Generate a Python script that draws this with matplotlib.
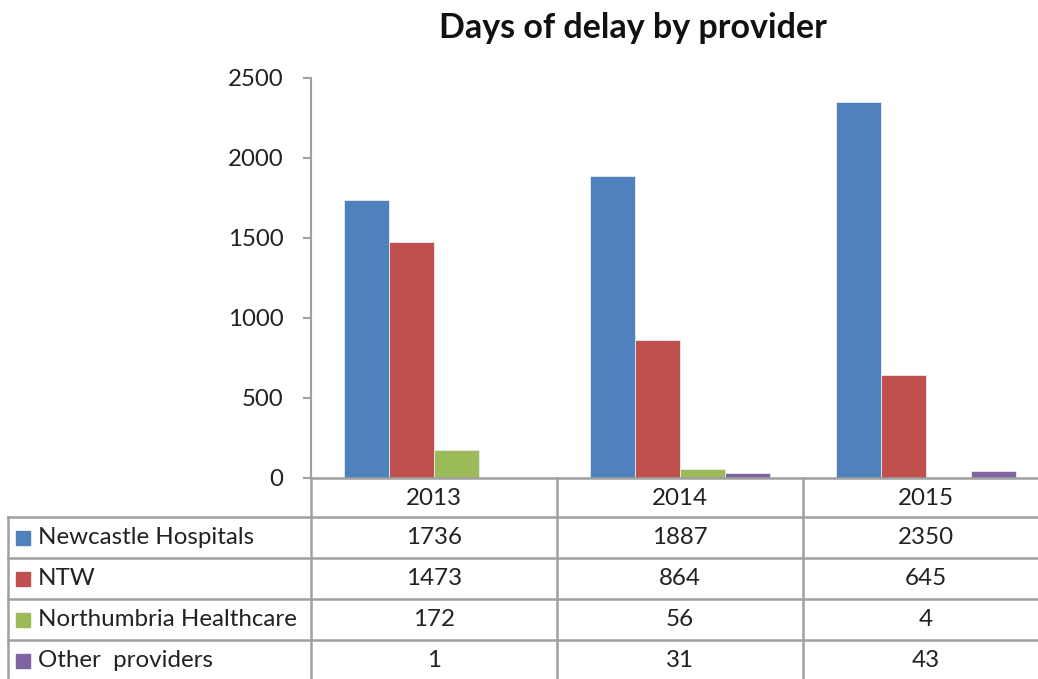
"""
    Days of delay by provider - grouped bars with data table
"""

import numpy as np
import matplotlib.pyplot as plt
from matplotlib.patches import Rectangle

plt.rcParams['font.family'] = ['Lato', 'DejaVu Sans']

years = ['2013', '2014', '2015']
providers = ['Newcastle Hospitals', 'NTW', 'Northumbria Healthcare', 'Other  providers']
newcastle = [1736, 1887, 2350]
ntw = [1473, 864, 645]
northumbria = [172, 56, 4]
other = [1, 31, 43]
series = [newcastle, ntw, northumbria, other]
colors = ['#4F81BD', '#C0504D', '#9BBB59', '#8064A2']

W, H = 1038, 679
fig = plt.figure(figsize=(W / 100, H / 100), dpi=100)


def fx(px):
    return px / W


def fy(py):
    return 1 - py / H


# plot area in pixels
x0, x1 = 311, 1049
ytop, ybot = 78, 478
ax = fig.add_axes([fx(x0), fy(ybot), fx(x1) - fx(x0), fy(ytop) - fy(ybot)])
ax.set_xlim(0, 3)
ax.set_ylim(0, 2500)
ax.set_yticks(np.arange(0, 2501, 500))
ax.set_xticks([])
for s in ['top', 'right']:
    ax.spines[s].set_visible(False)
ax.spines['left'].set_color('#a0a0a0')
ax.spines['bottom'].set_color('#a0a0a0')
ax.spines['left'].set_linewidth(1.5)
ax.spines['bottom'].set_linewidth(1.8)
ax.tick_params(axis='y', length=6, width=1.5, color='#a0a0a0',
               labelsize=17.3, labelcolor='#222222', pad=14)

bw = 0.183
x = np.arange(3) + 0.5
for k, (vals, c) in enumerate(zip(series, colors)):
    ax.bar(x + (k - 1.5) * bw, vals, width=bw, color=c,
           edgecolor='#e6ecf5', linewidth=0.6)

fig.text(fx(633), fy(28), 'Days of delay by provider', fontsize=24.5,
         fontweight='bold', ha='center', va='center', color='#111111')

# data table below the axis
grid = '#a0a0a0'
col_edges = [311, 557, 803, 1049]
row_edges = [478, 517, 558, 599, 640, 681]
lab_left = 8
fs = 17.4


def hline(y, xa, xb):
    fig.add_artist(plt.Line2D([fx(xa), fx(xb)], [fy(y), fy(y)],
                              color=grid, lw=1.8))


def vline(xp, ya, yb):
    fig.add_artist(plt.Line2D([fx(xp), fx(xp)], [fy(ya), fy(yb)],
                              color=grid, lw=1.8))


for r in row_edges[1:]:
    hline(r, lab_left, W + 10)
for cx in col_edges:
    vline(cx, row_edges[0], row_edges[-1])
vline(lab_left, row_edges[1], row_edges[-1])

for j, yr in enumerate(years):
    cxm = (col_edges[j] + col_edges[j + 1]) / 2
    fig.text(fx(cxm), fy((row_edges[0] + row_edges[1]) / 2 + 1), yr,
             ha='center', va='center', fontsize=fs, color='#222222')

for i, (name, vals, c) in enumerate(zip(providers, series, colors)):
    ym = (row_edges[i + 1] + row_edges[i + 2]) / 2
    fig.add_artist(Rectangle((fx(16), fy(ym + 7)), fx(14), fy(0) - fy(14),
                             transform=fig.transFigure, color=c))
    fig.text(fx(38), fy(ym), name, ha='left', va='center',
             fontsize=fs, color='#222222')
    for j, v in enumerate(vals):
        cxm = (col_edges[j] + col_edges[j + 1]) / 2
        fig.text(fx(cxm), fy(ym), str(v), ha='center', va='center',
                 fontsize=fs, color='#222222')

fig.savefig('out.png', dpi=100)
